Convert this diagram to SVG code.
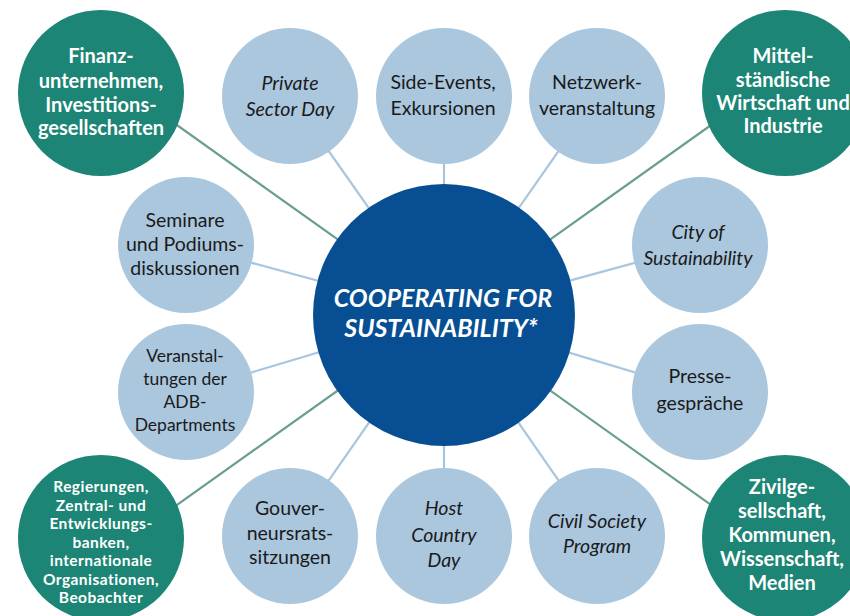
<svg xmlns="http://www.w3.org/2000/svg" width="850" height="616" viewBox="0 0 850 616">
<style>
.conn-b{stroke:#a9c6df;stroke-width:2.2;fill:none}
.conn-g{stroke:#6a9f8f;stroke-width:2.2;fill:none}
.lb{fill:#aac7de}
.gr{fill:#1c8575}
.core{fill:#074f92}
text{font-family:Lato,"Liberation Sans",sans-serif;text-anchor:middle}
.t{fill:#1a1a1a;font-size:19.5px}
.ti{fill:#1a1a1a;font-size:19.5px;font-style:italic}
.w{fill:#ffffff;font-weight:bold;font-size:20px}
.ws{fill:#ffffff;font-weight:bold;font-size:15.5px;letter-spacing:0.45px}
.c{fill:#ffffff;font-weight:bold;font-style:italic;font-size:25px}
.v{font-size:17.5px}
</style>
<rect width="850" height="616" fill="#ffffff"/>
<g id="connectors">
<line class="conn-g" x1="444" y1="315" x2="160" y2="113"/>
<line class="conn-g" x1="444" y1="315" x2="728" y2="113"/>
<line class="conn-g" x1="444" y1="315" x2="160" y2="517"/>
<line class="conn-g" x1="444" y1="315" x2="728" y2="517"/>
<line class="conn-b" x1="444" y1="315" x2="290" y2="96"/>
<line class="conn-b" x1="444" y1="315" x2="444" y2="96"/>
<line class="conn-b" x1="444" y1="315" x2="597" y2="96"/>
<line class="conn-b" x1="444" y1="315" x2="186" y2="245"/>
<line class="conn-b" x1="444" y1="315" x2="186" y2="392"/>
<line class="conn-b" x1="444" y1="315" x2="700" y2="245"/>
<line class="conn-b" x1="444" y1="315" x2="700" y2="392"/>
<line class="conn-b" x1="444" y1="315" x2="290" y2="536"/>
<line class="conn-b" x1="444" y1="315" x2="444" y2="536"/>
<line class="conn-b" x1="444" y1="315" x2="597" y2="536"/>
</g>
<g id="core">
<circle class="core" cx="444" cy="315" r="131"/>
<text class="c" x="443" y="307">COOPERATING FOR</text>
<text class="c" x="441" y="337">SUSTAINABILITY*</text>
</g>
<g id="finanz">
<circle class="gr" cx="101" cy="93" r="83"/>
<text class="w" x="101" y="63">Finanz-</text>
<text class="w" x="101" y="88">unternehmen,</text>
<text class="w" x="101" y="112">Investitions-</text>
<text class="w" x="101" y="135">gesellschaften</text>
</g>
<g id="mittel">
<circle class="gr" cx="785" cy="93" r="83"/>
<text class="w" x="783" y="63">Mittel-</text>
<text class="w" x="783" y="87">ständische</text>
<text class="w" x="783" y="110">Wirtschaft und</text>
<text class="w" x="783" y="133">Industrie</text>
</g>
<g id="regierungen">
<circle class="gr" cx="101" cy="538" r="83"/>
<text class="ws" x="101" y="492">Regierungen,</text>
<text class="ws" x="101" y="510.5">Zentral- und</text>
<text class="ws" x="101" y="529">Entwicklungs-</text>
<text class="ws" x="101" y="547.5">banken,</text>
<text class="ws" x="101" y="566">internationale</text>
<text class="ws" x="101" y="584.5">Organisationen,</text>
<text class="ws" x="101" y="603">Beobachter</text>
</g>
<g id="zivil">
<circle class="gr" cx="785" cy="538" r="83"/>
<text class="w" x="782" y="494">Zivilge-</text>
<text class="w" x="782" y="518">sellschaft,</text>
<text class="w" x="782" y="542">Kommunen,</text>
<text class="w" x="782" y="566">Wissenschaft,</text>
<text class="w" x="782" y="590">Medien</text>
</g>
<g id="private">
<circle class="lb" cx="290" cy="96" r="68"/>
<text class="ti" x="290" y="90">Private</text>
<text class="ti" x="290" y="116">Sector Day</text>
</g>
<g id="side">
<circle class="lb" cx="444" cy="96" r="68"/>
<text class="t" x="443" y="89">Side-Events,</text>
<text class="t" x="443" y="115">Exkursionen</text>
</g>
<g id="netzwerk">
<circle class="lb" cx="597" cy="96" r="68"/>
<text class="t" x="597" y="89">Netzwerk-</text>
<text class="t" x="597" y="115">veranstaltung</text>
</g>
<g id="seminare">
<circle class="lb" cx="186" cy="245" r="68"/>
<text class="t" x="185" y="227">Seminare</text>
<text class="t" x="185" y="251">und Podiums-</text>
<text class="t" x="185" y="275">diskussionen</text>
</g>
<g id="veranstaltungen">
<circle class="lb" cx="186" cy="392" r="68"/>
<text class="t v" x="185" y="362">Veranstal-</text>
<text class="t v" x="185" y="385">tungen der</text>
<text class="t v" x="185" y="408">ADB-</text>
<text class="t v" x="185" y="431">Departments</text>
</g>
<g id="city">
<circle class="lb" cx="700" cy="245" r="68"/>
<text class="ti" x="698" y="239">City of</text>
<text class="ti" x="698" y="265">Sustainability</text>
</g>
<g id="presse">
<circle class="lb" cx="700" cy="392" r="68"/>
<text class="t" x="700" y="383">Presse-</text>
<text class="t" x="700" y="410">gespräche</text>
</g>
<g id="gouver">
<circle class="lb" cx="290" cy="536" r="68"/>
<text class="t" x="290" y="515">Gouver-</text>
<text class="t" x="290" y="540">neursrats-</text>
<text class="t" x="290" y="564">sitzungen</text>
</g>
<g id="host">
<circle class="lb" cx="444" cy="536" r="68"/>
<text class="ti" x="444" y="515">Host</text>
<text class="ti" x="444" y="542">Country</text>
<text class="ti" x="444" y="567">Day</text>
</g>
<g id="civil">
<circle class="lb" cx="597" cy="536" r="68"/>
<text class="ti" x="597" y="528">Civil Society</text>
<text class="ti" x="597" y="553">Program</text>
</g>
</svg>
